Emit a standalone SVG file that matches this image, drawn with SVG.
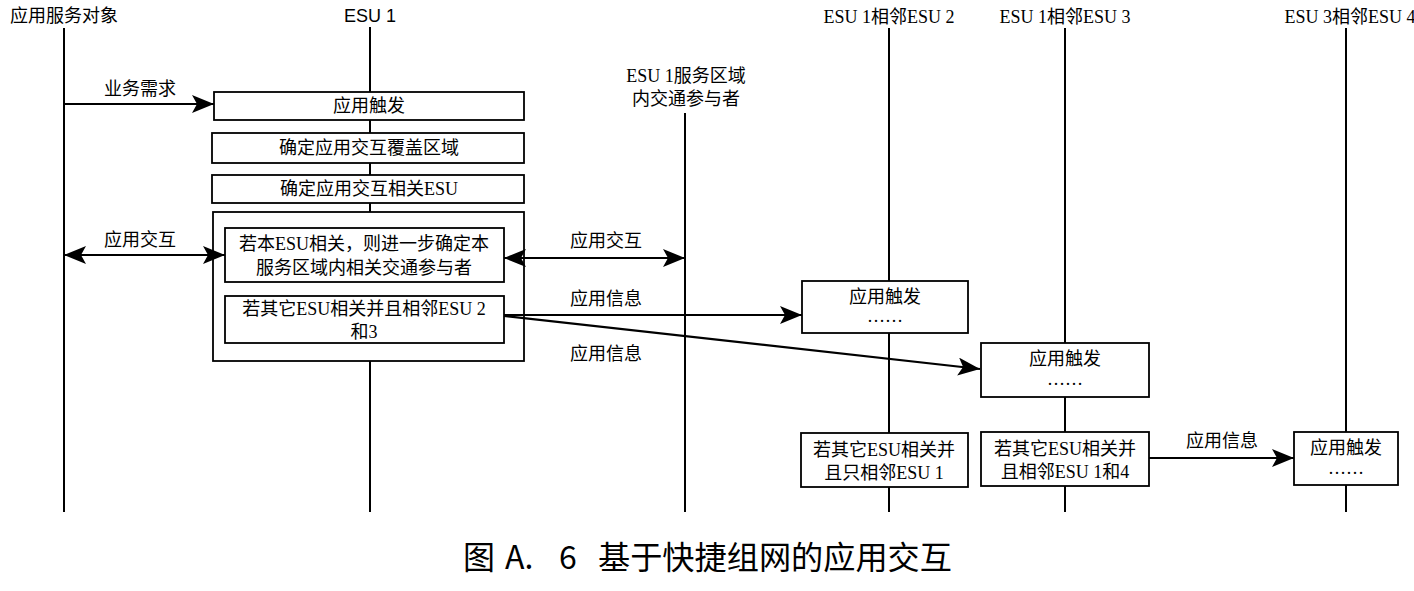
<svg xmlns="http://www.w3.org/2000/svg" width="1414" height="591" viewBox="0 0 1414 591">
<style>
text{font-family:"Liberation Serif","Noto Sans CJK SC",serif;font-size:18px;fill:#000}
.c{text-anchor:middle}
.life{stroke:#000;stroke-width:2;fill:none}
.box{fill:#fff;stroke:#000;stroke-width:1.8}
.arr{stroke:#000;stroke-width:2.2;fill:none}
.cap{font-family:"Noto Sans CJK SC",sans-serif;font-size:32px}
</style>
<defs>
<marker id="ah" markerUnits="userSpaceOnUse" markerWidth="24" markerHeight="20" refX="22" refY="9" orient="auto">
<path d="M0,0 L22,9 L0,18 L5,9 Z" fill="#000"/>
</marker>
<marker id="as" markerUnits="userSpaceOnUse" markerWidth="24" markerHeight="20" refX="0" refY="9" orient="auto">
<path d="M22,0 L0,9 L22,18 L17,9 Z" fill="#000"/>
</marker>
</defs>
<rect width="1414" height="591" fill="#fff"/>
<g id="lifelines">
<line class="life" x1="64" y1="28" x2="64" y2="512"/>
<line class="life" x1="370" y1="27" x2="370" y2="512"/>
<line class="life" x1="685" y1="113" x2="685" y2="512"/>
<line class="life" x1="889" y1="28" x2="889" y2="512"/>
<line class="life" x1="1065" y1="28" x2="1065" y2="512"/>
<line class="life" x1="1346" y1="28" x2="1346" y2="512"/>
</g>
<g id="headers">
<text x="64" y="22" class="c">应用服务对象</text>
<text x="370" y="22" class="c" style="font-family:'Liberation Sans','Noto Sans CJK SC',sans-serif">ESU 1</text>
<text x="686" y="82" class="c">ESU 1服务区域</text>
<text x="686" y="105" class="c">内交通参与者</text>
<text x="889" y="23" class="c">ESU 1相邻ESU 2</text>
<text x="1065" y="23" class="c">ESU 1相邻ESU 3</text>
<text x="1350" y="23" class="c">ESU 3相邻ESU 4</text>
</g>
<g id="n-trigger1">
<rect class="box" x="214" y="92" width="310" height="28"/>
<text x="369" y="112" class="c">应用触发</text>
</g>
<g id="n-coverage">
<rect class="box" x="212" y="133" width="312" height="30"/>
<text x="369" y="154" class="c">确定应用交互覆盖区域</text>
</g>
<g id="n-relesu">
<rect class="box" x="212" y="175" width="312" height="28"/>
<text x="369" y="195" class="c">确定应用交互相关ESU</text>
</g>
<g id="n-outer">
<rect class="box" x="213" y="212" width="311" height="149"/>
</g>
<g id="n-self">
<rect class="box" x="225" y="228" width="279" height="54"/>
<text x="364" y="250" class="c">若本ESU相关，则进一步确定本</text>
<text x="364" y="274" class="c">服务区域内相关交通参与者</text>
</g>
<g id="n-other">
<rect class="box" x="225" y="296" width="279" height="47"/>
<text x="364" y="315" class="c">若其它ESU相关并且相邻ESU 2</text>
<text x="364" y="338" class="c">和3</text>
</g>
<g id="n-esu2-trigger">
<rect class="box" x="802" y="281" width="166" height="52"/>
<text x="885" y="303" class="c">应用触发</text>
<text x="885" y="322" class="c">……</text>
</g>
<g id="n-esu3-trigger">
<rect class="box" x="981" y="343" width="168" height="54"/>
<text x="1065" y="365" class="c">应用触发</text>
<text x="1065" y="385" class="c">……</text>
</g>
<g id="n-esu2-only">
<rect class="box" x="801" y="433" width="167" height="54"/>
<text x="884" y="456" class="c">若其它ESU相关并</text>
<text x="884" y="479" class="c">且只相邻ESU 1</text>
</g>
<g id="n-esu3-adj">
<rect class="box" x="981" y="432" width="168" height="54"/>
<text x="1065" y="455" class="c">若其它ESU相关并</text>
<text x="1065" y="478" class="c">且相邻ESU 1和4</text>
</g>
<g id="n-esu4-trigger">
<rect class="box" x="1294" y="432" width="104" height="53"/>
<text x="1346" y="454" class="c">应用触发</text>
<text x="1346" y="474" class="c">……</text>
</g>
<g id="connectors">
<line class="arr" x1="64" y1="104" x2="214" y2="104" marker-end="url(#ah)"/>
<line class="arr" x1="64" y1="255" x2="225" y2="255" marker-start="url(#as)" marker-end="url(#ah)"/>
<line class="arr" x1="504" y1="258" x2="685" y2="258" marker-start="url(#as)" marker-end="url(#ah)"/>
<line class="arr" x1="504" y1="315" x2="802" y2="315" marker-end="url(#ah)"/>
<line class="arr" x1="504" y1="316" x2="980" y2="369" marker-end="url(#ah)"/>
<line class="arr" x1="1149" y1="458" x2="1294" y2="458" marker-end="url(#ah)"/>
</g>
<g id="labels">
<text x="140" y="95" class="c">业务需求</text>
<text x="140" y="246" class="c">应用交互</text>
<text x="606" y="247" class="c">应用交互</text>
<text x="606" y="305" class="c">应用信息</text>
<text x="606" y="360" class="c">应用信息</text>
<text x="1222" y="447" class="c">应用信息</text>
</g>
<text class="cap" y="569"><tspan x="463">图</tspan><tspan x="505">A.</tspan><tspan x="559">6</tspan><tspan x="598" textLength="354" lengthAdjust="spacingAndGlyphs">基于快捷组网的应用交互</tspan></text>
</svg>
